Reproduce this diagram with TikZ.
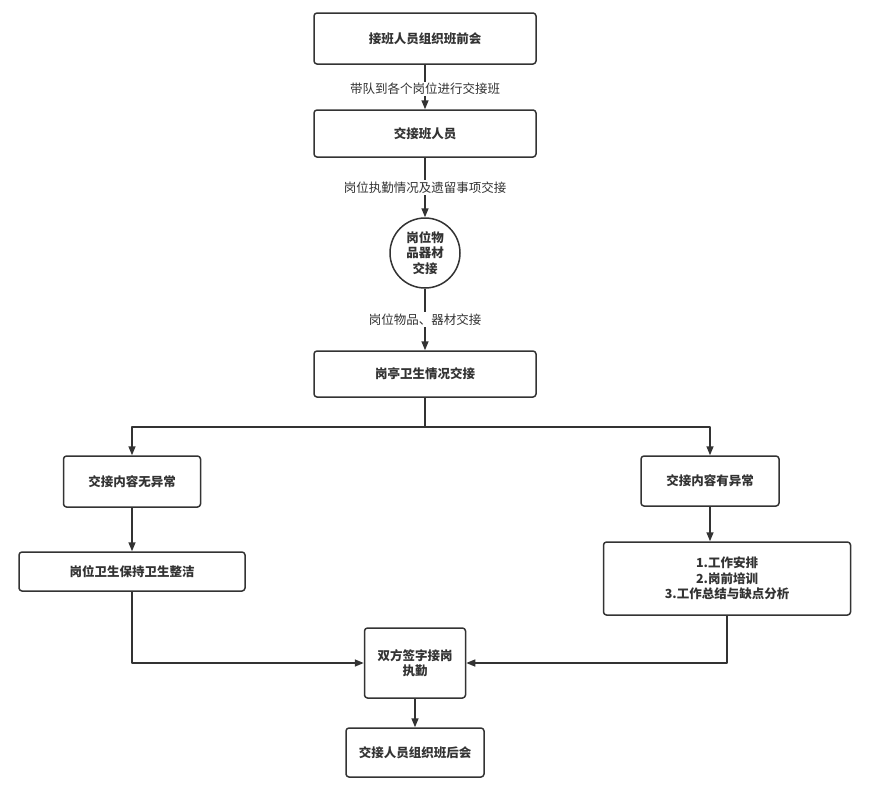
\documentclass[tikz,border=0pt]{standalone}
\usepackage{fontspec}
\setmainfont{Noto Sans CJK SC}
\usetikzlibrary{arrows.meta}
\definecolor{linegray}{HTML}{333333}
\begin{document}
\begin{tikzpicture}[x=1pt,y=-1pt,line join=round,>={Triangle[length=9pt,width=7pt]},line width=1.5pt,draw=linegray]
	\tikzset{box/.style={draw=linegray,line width=1.5pt,rounded corners=3pt,fill=white,align=center,text=linegray,inner sep=0pt,font=\bfseries\fontsize{12.5}{15.5}\selectfont},
		lbl/.style={fill=white,text=linegray,inner sep=1.5pt,font=\fontsize{12.5}{15.5}\selectfont}}
	\useasboundingbox (0,0) rectangle (869,790);
	\node[box,minimum width=222pt,minimum height=51pt] (meet) at (425,38.5) {接班人员组织班前会};
	\node[box,minimum width=222pt,minimum height=47pt] (staff) at (425,133.5) {交接班人员};
	\node[box,circle,minimum size=70pt,rounded corners=0pt] (items) at (425,253) {岗位物\\品器材\\交接};
	\node[box,minimum width=222pt,minimum height=46pt] (sani) at (425,374) {岗亭卫生情况交接};
	\node[box,minimum width=137pt,minimum height=51pt] (ok) at (132,481.5) {交接内容无异常};
	\node[box,minimum width=226pt,minimum height=39pt] (keep) at (132,571.5) {岗位卫生保持卫生整洁};
	\node[box,minimum width=138pt,minimum height=50pt] (bad) at (710,481) {交接内容有异常};
	\node[box,minimum width=247pt,minimum height=73pt] (plan) at (727,578.5) {1.工作安排\\2.岗前培训\\3.工作总结与缺点分析};
	\node[box,minimum width=101pt,minimum height=70pt] (sign) at (415,663) {双方签字接岗\\执勤};
	\node[box,minimum width=138pt,minimum height=49pt] (after) at (415,752.5) {交接人员组织班后会};
	\draw[->] (meet) -- (staff) node[midway,lbl,yshift=-2pt] {带队到各个岗位进行交接班};
	\draw[->] (staff) -- (items) node[midway,lbl] {岗位执勤情况及遗留事项交接};
	\draw[->] (items) -- (sani) node[midway,lbl] {岗位物品、器材交接};
	\draw (sani.south) -- ++(0,29) coordinate (split);
	\draw[->] (split) -| (ok.north);
	\draw[->] (split) -| (bad.north);
	\draw[->] (ok) -- (keep);
	\draw[->] (bad.south) -- (bad.south |- plan.north);
	\draw[->] (keep.south) |- (sign.west);
	\draw[->] (plan.south) |- (sign.east);
	\draw[->] (sign) -- (after);
\end{tikzpicture}
\end{document}
